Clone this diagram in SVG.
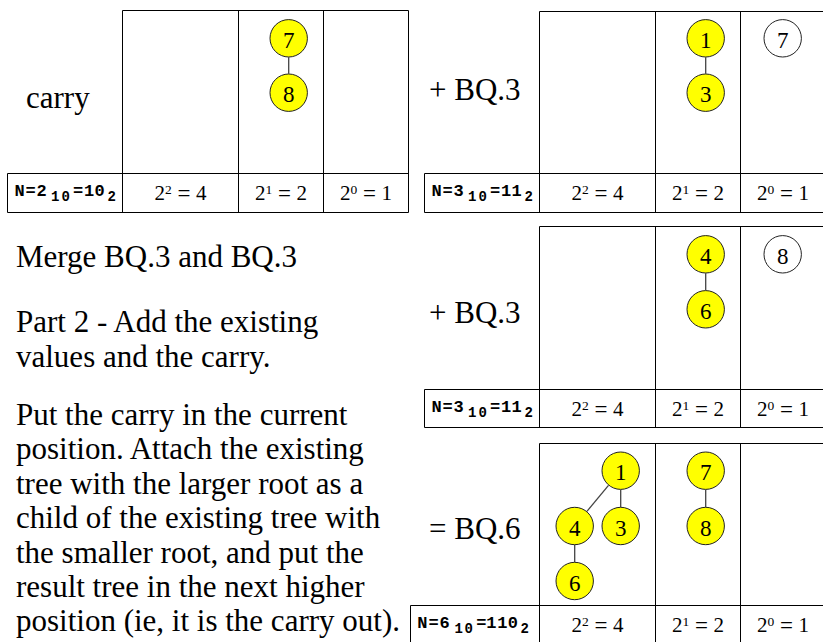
<svg xmlns="http://www.w3.org/2000/svg" width="823" height="642" viewBox="0 0 823 642">
<style>
.bg{fill:#fff}
.grid{fill:none;stroke:#000;stroke-width:1}
.big{font-family:"Liberation Serif","Times New Roman",serif;font-size:31px;fill:#000}
.pw{font-family:"Liberation Serif","Times New Roman",serif;font-size:21px;fill:#000;text-anchor:middle}
.sup{font-size:13.5px}
.eq{font-size:23px}
.nl{font-family:"Liberation Mono","Courier New",monospace;font-weight:bold;font-size:17px;fill:#000}
.nls{font-family:"Liberation Mono","Courier New",monospace;font-weight:bold;font-size:14px;fill:#000}
.y{fill:#ffff00;stroke:#222;stroke-width:1}
.w{fill:#fff;stroke:#222;stroke-width:1}
.num{font-family:"Liberation Serif","Times New Roman",serif;font-size:23px;fill:#000;text-anchor:middle}
.edge{stroke:#444;stroke-width:1.3;fill:none}
</style>
<rect class="bg" x="0" y="0" width="823" height="642"/>

<g id="notes">
<text class="big" x="16" y="266.7">Merge BQ.3 and BQ.3</text>
<text class="big" x="16" y="332.3">Part 2 - Add the existing</text>
<text class="big" x="16" y="366.7">values and the carry.</text>
<text class="big" x="16" y="425">Put the carry in the current</text>
<text class="big" x="16" y="459.4">position. Attach the existing</text>
<text class="big" x="16" y="493.8">tree with the larger root as a</text>
<text class="big" x="16" y="528.2">child of the existing tree with</text>
<text class="big" x="16" y="562.6">the smaller root, and put the</text>
<text class="big" x="16" y="597">result tree in the next higher</text>
<text class="big" x="16" y="631.4">position (ie, it is the carry out).</text>
</g>

<!-- Table 1: carry -->
<g id="table-carry">
<path class="grid" d="M122.5 10.5H408.5V212.5H7.5V173.5H408.5M122.5 10.5V212.5M238.5 10.5V212.5M323.5 10.5V212.5"/>
<text class="big" x="26" y="108">carry</text>
<text class="nl" x="14.5 25.5 36.5" y="196">N=2</text><text class="nls" x="51 61.5" y="200.5">10</text><text class="nl" x="73 84 94.5" y="196">=10</text><text class="nls" x="107.5" y="200.5">2</text>
<text class="pw" x="180.5" y="200">2<tspan class="sup" dy="-6.5">2</tspan><tspan class="eq" dy="7.5"> = </tspan><tspan dy="-1">4</tspan></text>
<text class="pw" x="281" y="200">2<tspan class="sup" dy="-6.5">1</tspan><tspan class="eq" dy="7.5"> = </tspan><tspan dy="-1">2</tspan></text>
<text class="pw" x="366" y="200">2<tspan class="sup" dy="-6.5">0</tspan><tspan class="eq" dy="7.5"> = </tspan><tspan dy="-1">1</tspan></text>
</g>

<!-- Table 2: + BQ.3 -->
<g id="table-bq3-a">
<path class="grid" d="M539.5 11.5H830V212.5H424.5V173.5H830M539.5 11.5V212.5M655.5 11.5V212.5M740.5 11.5V212.5"/>
<text class="big" x="429" y="100">+ BQ.3</text>
<text class="nl" x="431.5 442.5 453.5" y="196">N=3</text><text class="nls" x="468 478.5" y="200.5">10</text><text class="nl" x="490 501 511.5" y="196">=11</text><text class="nls" x="524.5" y="200.5">2</text>
<text class="pw" x="597.5" y="200">2<tspan class="sup" dy="-6.5">2</tspan><tspan class="eq" dy="7.5"> = </tspan><tspan dy="-1">4</tspan></text>
<text class="pw" x="698" y="200">2<tspan class="sup" dy="-6.5">1</tspan><tspan class="eq" dy="7.5"> = </tspan><tspan dy="-1">2</tspan></text>
<text class="pw" x="783" y="200">2<tspan class="sup" dy="-6.5">0</tspan><tspan class="eq" dy="7.5"> = </tspan><tspan dy="-1">1</tspan></text>
</g>

<!-- Table 3: + BQ.3 -->
<g id="table-bq3-b">
<path class="grid" d="M539.5 226.5H830V427.5H424.5V389.5H830M539.5 226.5V427.5M655.5 226.5V427.5M740.5 226.5V427.5"/>
<text class="big" x="429" y="323">+ BQ.3</text>
<text class="nl" x="431.5 442.5 453.5" y="412">N=3</text><text class="nls" x="468 478.5" y="416.5">10</text><text class="nl" x="490 501 511.5" y="412">=11</text><text class="nls" x="524.5" y="416.5">2</text>
<text class="pw" x="597.5" y="416">2<tspan class="sup" dy="-6.5">2</tspan><tspan class="eq" dy="7.5"> = </tspan><tspan dy="-1">4</tspan></text>
<text class="pw" x="698" y="416">2<tspan class="sup" dy="-6.5">1</tspan><tspan class="eq" dy="7.5"> = </tspan><tspan dy="-1">2</tspan></text>
<text class="pw" x="783" y="416">2<tspan class="sup" dy="-6.5">0</tspan><tspan class="eq" dy="7.5"> = </tspan><tspan dy="-1">1</tspan></text>
</g>

<!-- Table 4: = BQ.6 -->
<g id="table-bq6">
<path class="grid" d="M539.5 443.5H830V644.5H410.5V605.5H830M539.5 443.5V644.5M655.5 443.5V644.5M740.5 443.5V644.5"/>
<text class="big" x="429" y="539">= BQ.6</text>
<text class="nl" x="417.2 428.5 439.5" y="628">N=6</text><text class="nls" x="454.5 464.5" y="632.5">10</text><text class="nl" x="476.2 486.2 497.2 507.8" y="628">=110</text><text class="nls" x="520.5" y="632.5">2</text>
<text class="pw" x="597.5" y="632">2<tspan class="sup" dy="-6.5">2</tspan><tspan class="eq" dy="7.5"> = </tspan><tspan dy="-1">4</tspan></text>
<text class="pw" x="698" y="632">2<tspan class="sup" dy="-6.5">1</tspan><tspan class="eq" dy="7.5"> = </tspan><tspan dy="-1">2</tspan></text>
<text class="pw" x="783" y="632">2<tspan class="sup" dy="-6.5">0</tspan><tspan class="eq" dy="7.5"> = </tspan><tspan dy="-1">1</tspan></text>
</g>

<g id="connectors">
<line class="edge" x1="288.7" y1="57.3" x2="288.7" y2="73.7"/>
<line class="edge" x1="705.7" y1="57.3" x2="705.7" y2="73.7"/>
<line class="edge" x1="705.7" y1="273.3" x2="705.7" y2="290.3"/>
<line class="edge" x1="620.7" y1="489.7" x2="620.7" y2="507"/>
<line class="edge" x1="608.5" y1="485.3" x2="586.9" y2="511.4"/>
<line class="edge" x1="574.7" y1="545" x2="574.7" y2="562"/>
<line class="edge" x1="705.7" y1="489.7" x2="705.7" y2="507"/>
</g>

<g id="n-t1-7"><circle class="y" cx="288.7" cy="38.3" r="18.7"/><text class="num" x="288.7" y="47.8">7</text></g>
<g id="n-t1-8"><circle class="y" cx="288.7" cy="92.7" r="18.7"/><text class="num" x="288.7" y="102.2">8</text></g>

<g id="n-t2-1"><circle class="y" cx="705.7" cy="38.3" r="18.7"/><text class="num" x="705.7" y="47.8">1</text></g>
<g id="n-t2-3"><circle class="y" cx="705.7" cy="92.7" r="18.7"/><text class="num" x="705.7" y="102.2">3</text></g>
<g id="n-t2-7"><circle class="w" cx="782.7" cy="38.3" r="18.7"/><text class="num" x="782.7" y="47.8">7</text></g>

<g id="n-t3-4"><circle class="y" cx="705.7" cy="254.3" r="18.7"/><text class="num" x="705.7" y="263.8">4</text></g>
<g id="n-t3-6"><circle class="y" cx="705.7" cy="309.3" r="18.7"/><text class="num" x="705.7" y="318.8">6</text></g>
<g id="n-t3-8"><circle class="w" cx="782.7" cy="254.3" r="18.7"/><text class="num" x="782.7" y="263.8">8</text></g>

<g id="n-t4-1"><circle class="y" cx="620.7" cy="470.7" r="18.7"/><text class="num" x="620.7" y="480.2">1</text></g>
<g id="n-t4-3"><circle class="y" cx="620.7" cy="526" r="18.7"/><text class="num" x="620.7" y="535.5">3</text></g>
<g id="n-t4-4"><circle class="y" cx="574.7" cy="526" r="18.7"/><text class="num" x="574.7" y="535.5">4</text></g>
<g id="n-t4-6"><circle class="y" cx="574.7" cy="581" r="18.7"/><text class="num" x="574.7" y="590.5">6</text></g>
<g id="n-t4-7"><circle class="y" cx="705.7" cy="470.7" r="18.7"/><text class="num" x="705.7" y="480.2">7</text></g>
<g id="n-t4-8"><circle class="y" cx="705.7" cy="526" r="18.7"/><text class="num" x="705.7" y="535.5">8</text></g>
</svg>
